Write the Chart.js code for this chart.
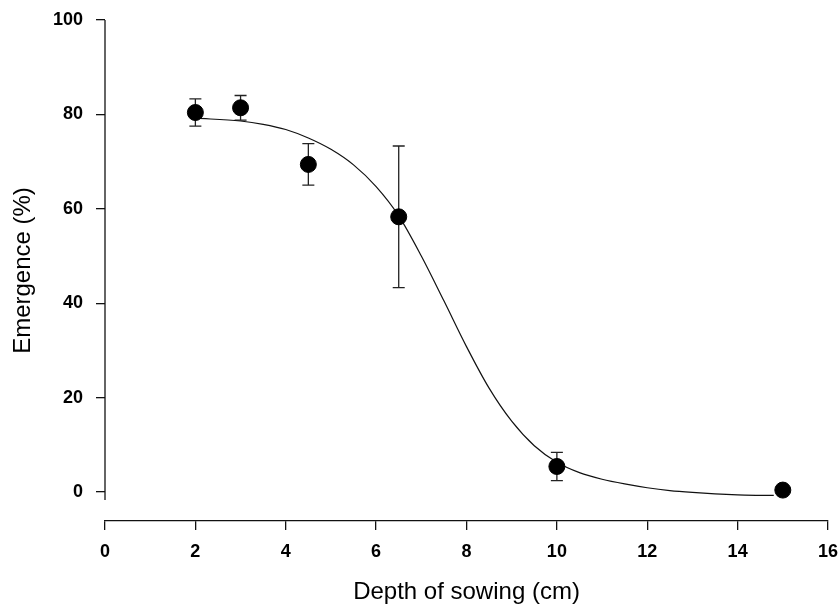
<!DOCTYPE html>
<html>
<head>
<meta charset="utf-8">
<title>Emergence vs depth of sowing</title>
<script src="https://cdn.jsdelivr.net/npm/chart.js@4"></script>
<style>
    html, body { margin: 0; padding: 0; background: #fff; }
    #wrap { width: 838px; height: 607px; }
</style>
</head>
<body>
<div id="wrap"><canvas id="emergenceChart" width="838" height="607"></canvas></div>
<script>
// Observed means and standard errors
const depths = [2, 3, 4.5, 6.5, 10, 15];
const emergence = [80.4, 81.4, 69.4, 58.3, 5.4, 0.4];
const stdErr = [2.9, 2.6, 4.4, 15.0, 3.0, 0];

// Fitted response curve
const fitDepth = [2, 3, 3.5, 4, 4.5, 5, 5.5, 6, 6.5, 7, 7.5, 8, 8.5, 9, 9.5, 10, 10.5, 11, 11.5, 12, 12.5, 13, 13.5, 14, 14.5, 14.8];
const fitEmergence = [79.2, 78.6, 77.9, 76.8, 75.0, 72.6, 69.3, 64.7, 58.5, 50.0, 40.5, 30.8, 22.0, 15.0, 9.8, 6.3, 4.1, 2.7, 1.7, 0.9, 0.3, -0.1, -0.4, -0.6, -0.7, -0.7];

const xTicks = [0, 2, 4, 6, 8, 10, 12, 14, 16];
const yTicks = [0, 20, 40, 60, 80, 100];
const yAxisFloor = -1.7;

const FONT = 'Arial, "Liberation Sans", sans-serif';
const INK = '#111';

// vertical error bars with caps, drawn under the markers
const errorBars = {
    id: 'errorBars',
    beforeDatasetsDraw(chart) {
        const { ctx, scales: { x, y } } = chart;
        ctx.save();
        ctx.strokeStyle = '#222';
        ctx.lineWidth = 1.3;
        depths.forEach((d, i) => {
            if (!stdErr[i]) return;
            const px = x.getPixelForValue(d);
            const top = y.getPixelForValue(emergence[i] + stdErr[i]);
            const bot = y.getPixelForValue(emergence[i] - stdErr[i]);
            ctx.beginPath();
            ctx.moveTo(px, top); ctx.lineTo(px, bot);
            ctx.moveTo(px - 6, top); ctx.lineTo(px + 6, top);
            ctx.moveTo(px - 6, bot); ctx.lineTo(px + 6, bot);
            ctx.stroke();
        });
        ctx.restore();
    }
};

// y axis spine stops short of the detached x axis
const ySpine = {
    id: 'ySpine',
    afterDraw(chart) {
        const { ctx, chartArea, scales: { y } } = chart;
        ctx.save();
        ctx.strokeStyle = INK;
        ctx.lineWidth = 1.3;
        ctx.beginPath();
        ctx.moveTo(chartArea.left, y.getPixelForValue(100));
        ctx.lineTo(chartArea.left, y.getPixelForValue(yAxisFloor));
        ctx.stroke();
        ctx.restore();
    }
};

new Chart(document.getElementById('emergenceChart'), {
    type: 'scatter',
    data: {
        datasets: [
            {
                label: 'Observed',
                data: depths.map((d, i) => ({ x: d, y: emergence[i] })),
                backgroundColor: '#000',
                borderColor: '#000',
                pointRadius: 8,
                pointHoverRadius: 8,
                clip: false,
                order: 0
            },
            {
                type: 'line',
                label: 'Fitted',
                data: fitDepth.map((d, i) => ({ x: d, y: fitEmergence[i] })),
                borderColor: '#111',
                borderWidth: 1.2,
                pointRadius: 0,
                fill: false,
                cubicInterpolationMode: 'monotone',
                clip: false,
                order: 1
            }
        ]
    },
    plugins: [errorBars, ySpine],
    options: {
        responsive: false,
        animation: false,
        devicePixelRatio: 1,
        layout: { padding: { top: 20, right: 10, left: 0, bottom: 0 } },
        plugins: {
            legend: { display: false },
            tooltip: { enabled: false }
        },
        scales: {
            x: {
                type: 'linear',
                min: 0,
                max: 16,
                afterFit: s => { s.height = 86; s.paddingRight = 0; s.paddingLeft = 0; },
                afterBuildTicks: s => { s.ticks = xTicks.map(v => ({ value: v })); },
                border: { display: true, color: INK, width: 1.3 },
                grid: { drawOnChartArea: false, drawTicks: true, tickLength: 9, color: INK, lineWidth: 1.3 },
                ticks: { color: '#000', padding: 11, font: { family: FONT, size: 18, weight: 'bold' } },
                title: {
                    display: true,
                    text: 'Depth of sowing (cm)',
                    color: '#000',
                    padding: { top: 0, bottom: 0 },
                    font: { family: FONT, size: 24 }
                }
            },
            y: {
                type: 'linear',
                min: -6.15,
                max: 100,
                afterFit: s => { s.width = 105; s.paddingTop = 0; s.paddingBottom = 0; },
                afterBuildTicks: s => { s.ticks = yTicks.map(v => ({ value: v })); },
                border: { display: false },
                grid: { drawOnChartArea: false, drawTicks: true, tickLength: 9, color: INK, lineWidth: 1.3 },
                ticks: { color: '#000', padding: 13, font: { family: FONT, size: 18, weight: 'bold' } },
                title: {
                    display: true,
                    text: 'Emergence (%)',
                    color: '#000',
                    padding: { top: 9, bottom: 0 },
                    font: { family: FONT, size: 24 }
                }
            }
        }
    }
});
</script>
</body>
</html>
